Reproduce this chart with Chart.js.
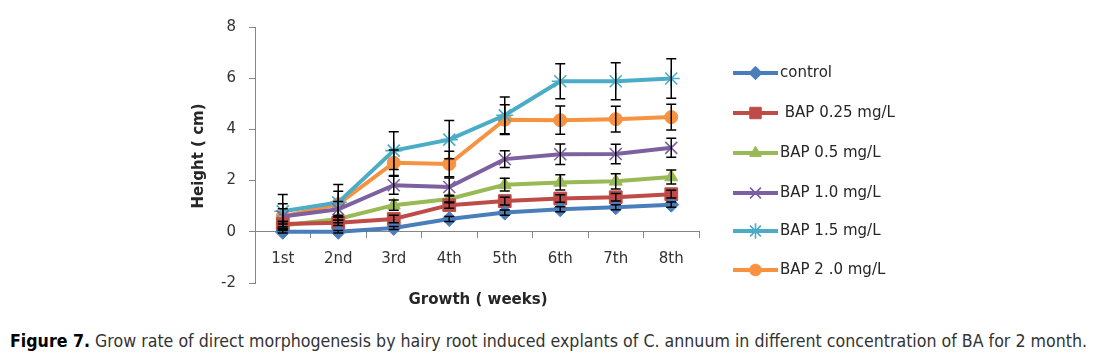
<!DOCTYPE html>
<html>
<head>
<meta charset="utf-8">
<script src="https://cdn.jsdelivr.net/npm/chart.js@4.4.1/dist/chart.umd.min.js"></script>
<style>
  html, body { margin: 0; padding: 0; background: #ffffff; }
  #wrap { position: relative; width: 1096px; height: 360px; overflow: hidden; }
  #c { position: absolute; left: 0; top: 0; }
  #cap { position: absolute; left: 10px; top: 331px; white-space: nowrap; line-height: 20px;
         font-family: "Liberation Sans Narrow", "DejaVu Sans Condensed", "Liberation Sans", sans-serif;
         font-size: 17px; color: #333; transform-origin: 0 0; }
  #cap b { color: #000; }
</style>
</head>
<body>
<div id="wrap">
  <canvas id="c" width="1096" height="320"></canvas>
  <div id="cap"><b>Figure 7.</b> Grow rate of direct morphogenesis by hairy root induced explants of C. annuum in different concentration of BA for 2 month.</div>
</div>
<script>
// ---- data ----
const weeks = ["1st", "2nd", "3rd", "4th", "5th", "6th", "7th", "8th"];
const seriesNames = ["control", " BAP 0.25 mg/L", "BAP 0.5 mg/L", "BAP 1.0 mg/L", "BAP 1.5 mg/L", "BAP 2 .0 mg/L"];
const control = [0, 0, 0.15, 0.5, 0.75, 0.88, 0.96, 1.06];
const bap025  = [0.3, 0.35, 0.5, 1.04, 1.2, 1.3, 1.35, 1.47];
const bap05   = [0.25, 0.5, 1.04, 1.28, 1.84, 1.93, 1.97, 2.14];
const bap10   = [0.6, 0.88, 1.82, 1.75, 2.84, 3.03, 3.04, 3.28];
const bap15   = [0.8, 1.15, 3.17, 3.6, 4.55, 5.88, 5.88, 5.99];
const bap20   = [0.6, 1.08, 2.7, 2.65, 4.38, 4.36, 4.4, 4.48];
const errControl = [0.05, 0.05, 0.06, 0.1, 0.1, 0.1, 0.1, 0.1];
const err025     = [0.1, 0.1, 0.15, 0.12, 0.15, 0.15, 0.15, 0.15];
const err05      = [0.15, 0.15, 0.2, 0.15, 0.25, 0.3, 0.3, 0.27];
const err10      = [0.3, 0.3, 0.35, 0.35, 0.33, 0.4, 0.38, 0.37];
const err15      = [0.66, 0.7, 0.74, 0.75, 0.72, 0.68, 0.72, 0.77];
const err20      = [0.5, 0.5, 0.5, 0.5, 0.58, 0.55, 0.5, 0.5];
const yTicks = [-2, 0, 2, 4, 6, 8];
const yTitle = "Height ( cm)";
const xTitle = "Growth ( weeks)";

// ---- styles ----
const styles = [
  { color: "#4A7EBB", point: "rectRot", r: 7.5 },
  { color: "#BE4B48", point: "rect", r: 9 },
  { color: "#98B954", point: "triangle", r: 7.5 },
  { color: "#7D60A0", point: "crossRot", r: 8.5 },
  { color: "#4BACC6", point: "star", r: 8.5 },
  { color: "#F69240", point: "circle", r: 6.5 }
];
const values = [control, bap025, bap05, bap10, bap15, bap20];
const errors = [errControl, err025, err05, err10, err15, err20];

const datasets = values.map((v, i) => ({
  label: seriesNames[i],
  data: v,
  errors: errors[i],
  borderColor: styles[i].color,
  backgroundColor: styles[i].color,
  borderWidth: 4,
  pointStyle: styles[i].point,
  pointRadius: styles[i].r,
  pointBorderWidth: (styles[i].point === "crossRot" || styles[i].point === "star") ? 1.6 : 1,
  pointBorderColor: styles[i].color,
  pointBackgroundColor: styles[i].color,
  tension: 0,
  clip: false
}));

const errorBars = {
  id: "errorBars",
  afterDatasetsDraw(chart) {
    const ctx = chart.ctx, ys = chart.scales.y;
    ctx.save();
    ctx.strokeStyle = "#000";
    ctx.lineWidth = 1.5;
    chart.data.datasets.forEach((ds, i) => {
      const meta = chart.getDatasetMeta(i);
      meta.data.forEach((pt, j) => {
        const v = ds.data[j], e = ds.errors[j];
        const yt = ys.getPixelForValue(v + e), yb = ys.getPixelForValue(v - e);
        const x = pt.x;
        ctx.beginPath();
        ctx.moveTo(x, yt); ctx.lineTo(x, yb);
        ctx.moveTo(x - 5, yt); ctx.lineTo(x + 5, yt);
        ctx.moveTo(x - 5, yb); ctx.lineTo(x + 5, yb);
        ctx.stroke();
      });
    });
    ctx.restore();
  }
};

const extras = {
  id: "extras",
  afterDraw(chart) {
    const ctx = chart.ctx;
    ctx.save();
    // axis titles
    ctx.fillStyle = "#262626";
    ctx.font = "bold 15px 'DejaVu Sans'";
    ctx.textAlign = "center";
    ctx.textBaseline = "middle";
    ctx.fillText(xTitle, 478, 300);
    ctx.save();
    ctx.translate(199, 156);
    ctx.rotate(-Math.PI / 2);
    ctx.fillText(yTitle, 0, 0);
    ctx.restore();
    // legend
    const ys = [73, 113, 153, 193, 231, 270];
    ctx.font = "15px 'DejaVu Sans'";
    ctx.textAlign = "left";
    chart.data.datasets.forEach((ds, i) => {
      const y = ys[i];
      ctx.strokeStyle = ds.borderColor;
      ctx.lineWidth = 4;
      ctx.beginPath();
      ctx.moveTo(733, y); ctx.lineTo(778, y);
      ctx.stroke();
      ctx.fillStyle = ds.backgroundColor;
      ctx.strokeStyle = ds.borderColor;
      ctx.lineWidth = ds.pointBorderWidth;
      Chart.helpers.drawPoint(ctx, { pointStyle: ds.pointStyle, radius: ds.pointRadius * 0.9, rotation: 0, borderWidth: ds.pointBorderWidth }, 755.5, y);
      ctx.fillStyle = "#262626";
      ctx.fillText(ds.label, 780, y);
    });
    ctx.restore();
  }
};

new Chart(document.getElementById("c"), {
  type: "line",
  data: { labels: weeks, datasets: datasets },
  plugins: [errorBars, extras],
  options: {
    responsive: false,
    animation: false,
    devicePixelRatio: 1,
    layout: { padding: { left: 0, top: 27, right: 397, bottom: 37 } },
    plugins: { legend: { display: false }, tooltip: { enabled: false } },
    scales: {
      x: {
        type: "category",
        position: { y: 0 },
        offset: true,
        grid: { offset: true, drawOnChartArea: false, drawTicks: true, tickLength: 6, color: "#868686" },
        border: { color: "#868686", width: 1 },
        ticks: { padding: 12, color: "#333", font: { family: "DejaVu Sans", size: 15 } }
      },
      y: {
        min: -2, max: 8,
        afterBuildTicks: (s) => { s.ticks = yTicks.map(v => ({ value: v })); },
        afterFit: (s) => { s.width = 255; },
        grid: { drawOnChartArea: false, drawTicks: true, tickLength: 6, color: "#868686" },
        border: { color: "#868686", width: 1 },
        ticks: { padding: 13, color: "#333", font: { family: "DejaVu Sans", size: 15 } }
      }
    }
  }
});

// fit caption to reference width
const cap = document.getElementById("cap");
const w = cap.getBoundingClientRect().width;
cap.style.transform = "scaleX(" + (1077 / w) + ")";
</script>
</body>
</html>
